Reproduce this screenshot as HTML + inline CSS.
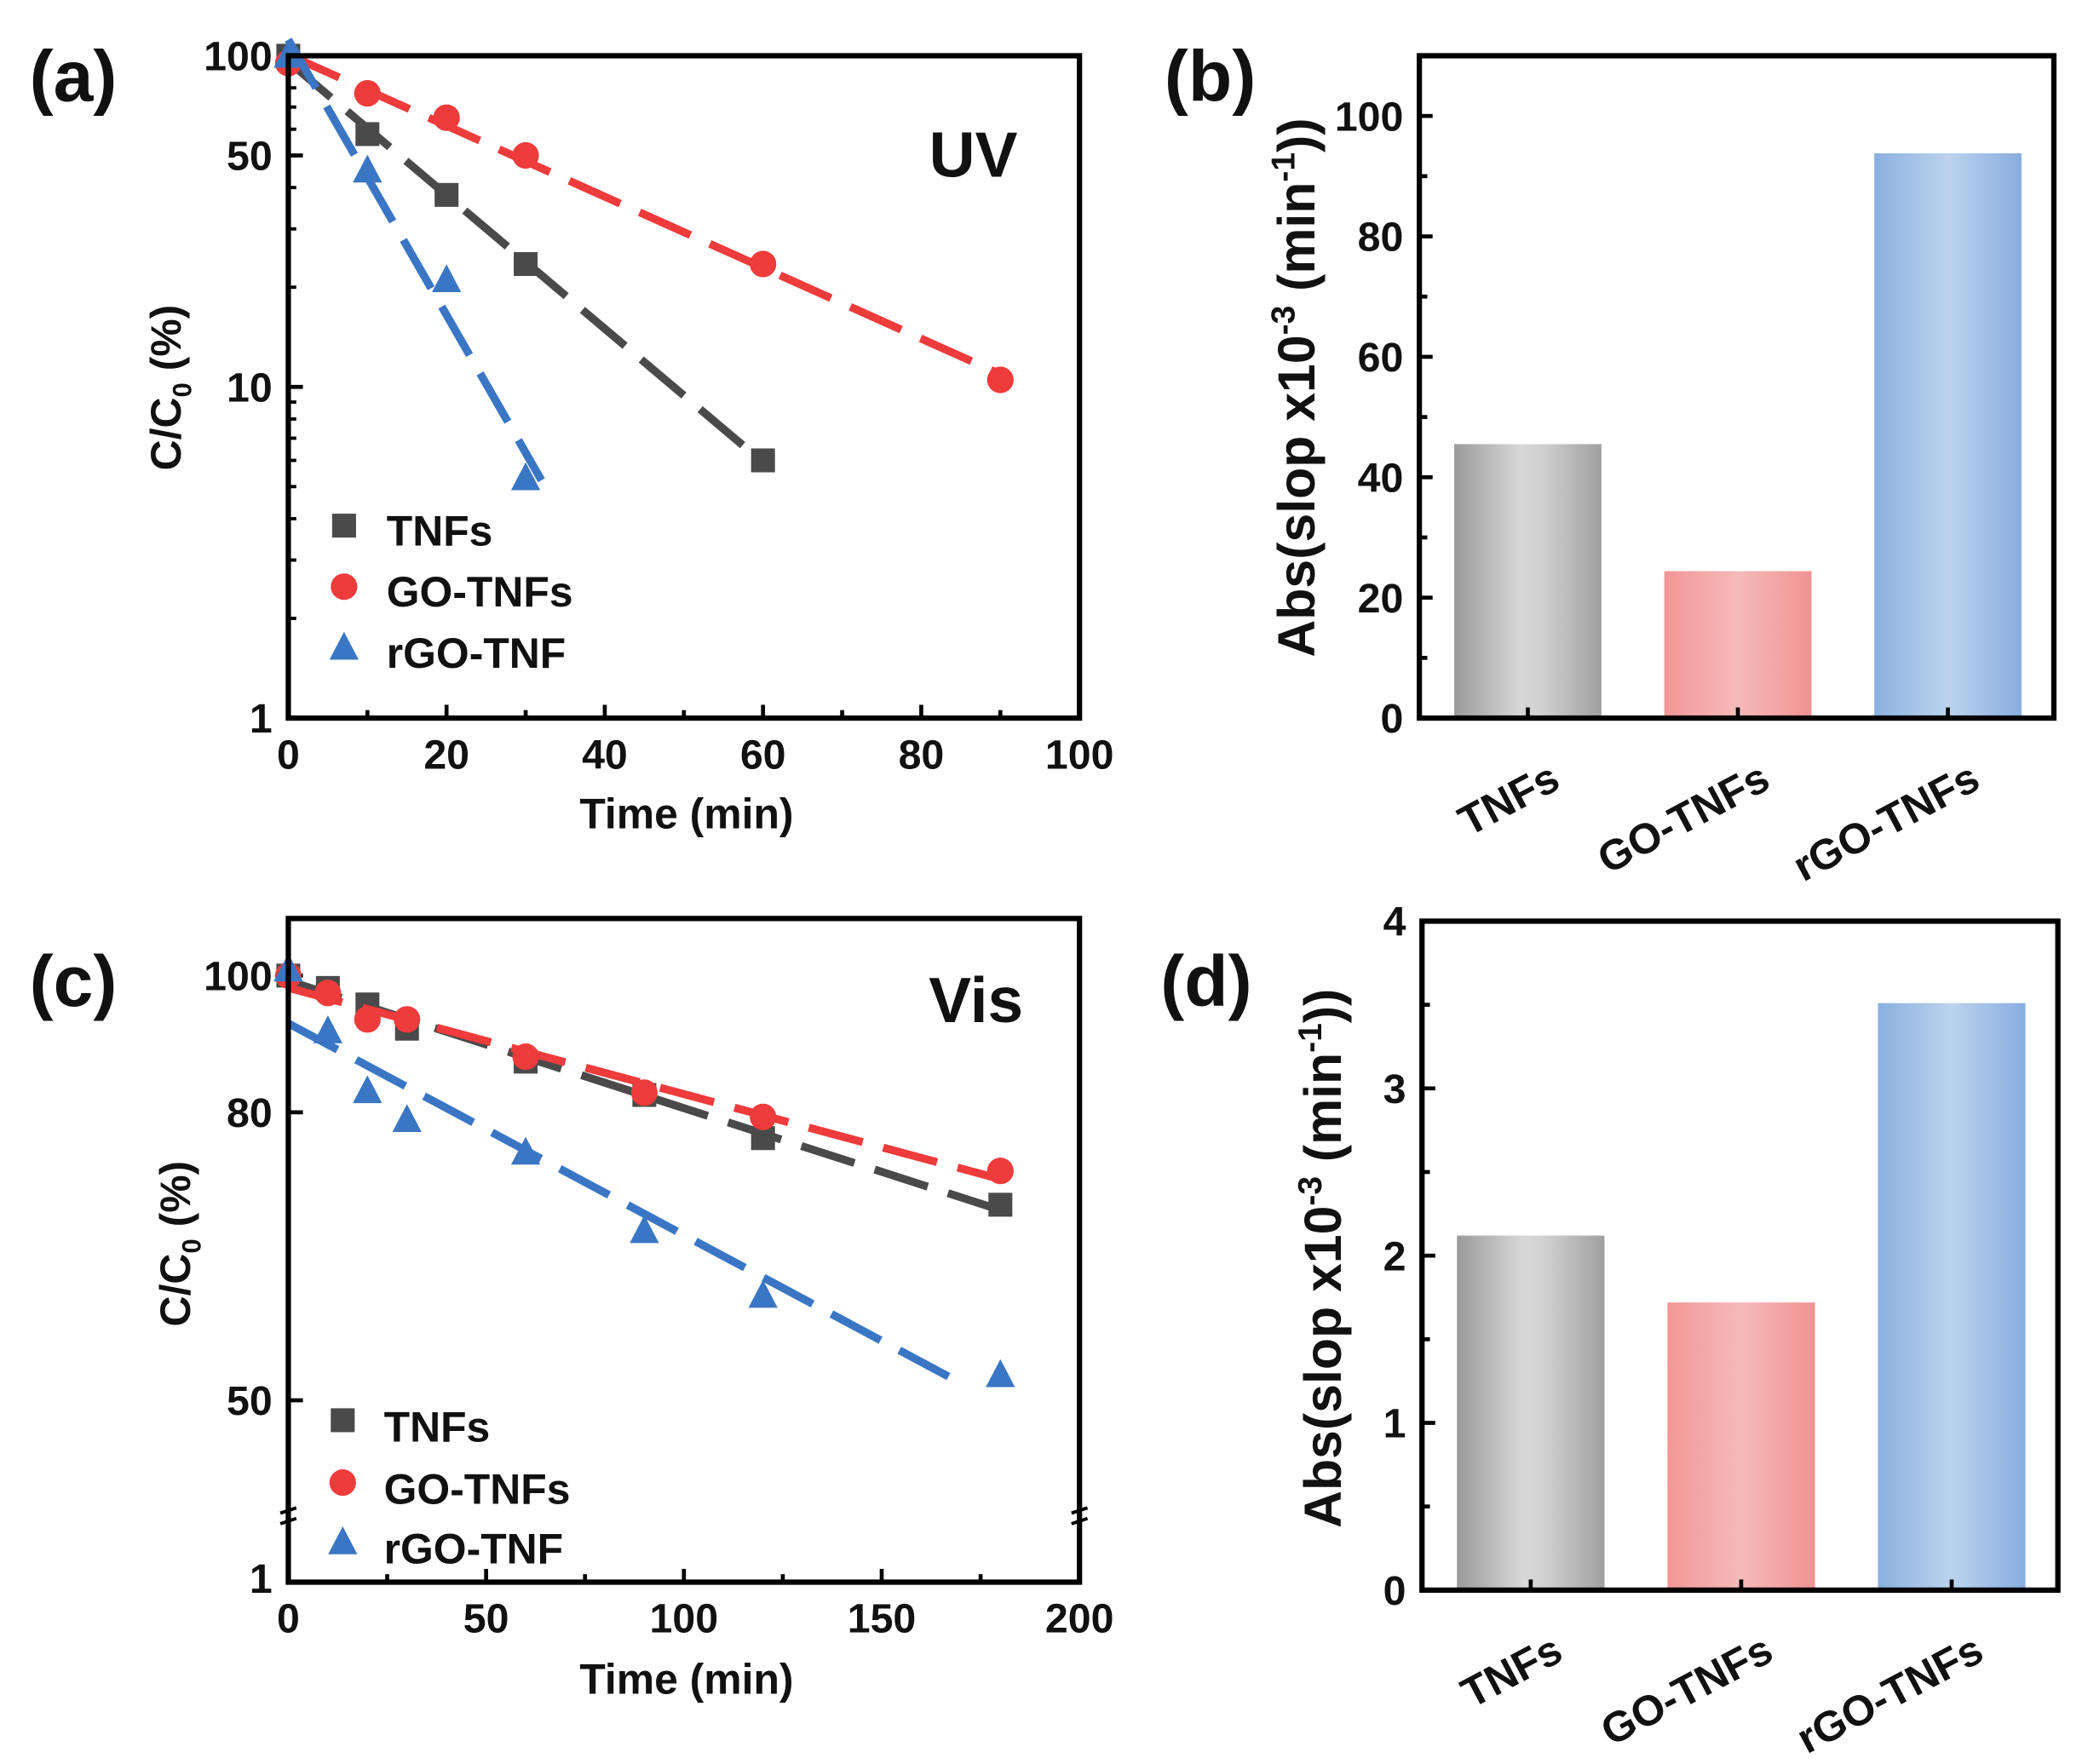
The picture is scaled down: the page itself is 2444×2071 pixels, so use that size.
<!DOCTYPE html>
<html><head><meta charset="utf-8"><style>
html,body{margin:0;padding:0;background:#fff;}
svg{display:block;}
text{font-family:"Liberation Sans",sans-serif;font-weight:bold;fill:#111;}
</style></head><body>
<svg id="fig" width="2444" height="2071" viewBox="0 0 1568 1329" xmlns="http://www.w3.org/2000/svg">
<defs>
<linearGradient id="gGray" x1="0" x2="1" y1="0" y2="0"><stop offset="0" stop-color="#9a9a9a"/><stop offset="0.45" stop-color="#d8d8d8"/><stop offset="0.6" stop-color="#d0d0d0"/><stop offset="1" stop-color="#a0a0a0"/></linearGradient>
<linearGradient id="gRed" x1="0" x2="1" y1="0" y2="0"><stop offset="0" stop-color="#f29696"/><stop offset="0.5" stop-color="#f6baba"/><stop offset="1" stop-color="#f19292"/></linearGradient>
<linearGradient id="gBlue" x1="0" x2="1" y1="0" y2="0"><stop offset="0" stop-color="#8ab0df"/><stop offset="0.5" stop-color="#bcd3ee"/><stop offset="1" stop-color="#88ade0"/></linearGradient>
</defs>
<g id="root"></g>
</svg>
<script>
// ---------- data ----------
const seriesNames = ['TNFs','GO-TNFs','rGO-TNF'];
const aTime = [[0,10,20,30,60],[0,10,20,30,60,90],[0,10,20,30]];
const aGray = [100,58,38,23.5,6];
const aRed = [95,77,65,50,23.5,10.5];
const aBlue = [100,45,21,5.3];
const aFitEnd = [61,90,32];
const cTime = [0,10,20,30,60,90,120,180];
const cGray = [100,98,95.4,91.7,86.9,82.3,76.7,68.8];
const cRed = [100,97.2,93.1,93.1,87.6,82.6,79.4,72.7];
const cBlue = [101,91.3,82.8,79,74.9,65.9,59.3,52.1];
const cFitEnd = [180,180,170];
const barCats = ['TNFs','GO-TNFs','rGO-TNFs'];
const bVals = [45.5,24.4,93.8];
const dVals = [2.12,1.72,3.51];
const aXTicks = [0,20,40,60,80,100];
const aYTicks = [1,10,50,100];
const bYTicks = [0,20,40,60,80,100];
const cXTicks = [0,50,100,150,200];
const cYTicks = [50,80,100];
const dYTicks = [0,1,2,3,4];

const NS='http://www.w3.org/2000/svg';
const root=document.getElementById('root');
function mk(tag,attrs,parent){const e=document.createElementNS(NS,tag);for(const k in attrs)e.setAttribute(k,attrs[k]);(parent||root).appendChild(e);return e;}
function txt(s,attrs,parent){const e=mk('text',attrs,parent);e.textContent=s;return e;}
const colors=['#4a4a4a','#ee3b3b','#3a76c4'];
const TF=31;

function marker(type,x,y,c,g){
  let e;
  if(type===0){e=mk('rect',{x:x-9,y:y-9,width:18,height:18,fill:c},g);}
  else if(type===1){e=mk('circle',{cx:x,cy:y,r:10,fill:c},g);}
  else {e=mk('polygon',{points:`${x},${y-12} ${x-11},${y+9} ${x+11},${y+9}`,fill:c},g);}
  return e;
}
function fitLog(xs,ys){const n=xs.length;let sx=0,sy=0,sxx=0,sxy=0;for(let i=0;i<n;i++){const ly=Math.log10(ys[i]);sx+=xs[i];sy+=ly;sxx+=xs[i]*xs[i];sxy+=xs[i]*ly;}const b=(n*sxy-sx*sy)/(n*sxx-sx*sx);const a=(sy-b*sx)/n;return [a,b];}

function frame(L,T,R,B,name){
  const r=mk('rect',{x:L,y:T,width:R-L,height:B-T,fill:'none',stroke:'#000','stroke-width':4});
  
  
}
function label(s,x,y,name){const t=txt(s,{x:x,y:y,'font-size':54});}

// ---------- panel (a) ----------
(function(){
  const L=217,R=813,T=42,B=541;
  const X=v=>L+(v/100)*(R-L);
  const Y=v=>B-Math.log10(v)*(B-T)/2;
  const g=mk('g',{});
  aXTicks.forEach(v=>{mk('line',{x1:X(v),x2:X(v),y1:B,y2:B-10,stroke:'#000','stroke-width':3},g);
    const t=txt(v,{x:X(v),y:B+38,'text-anchor':'middle','font-size':TF},g);});
  for(let v=10;v<100;v+=20){mk('line',{x1:X(v),x2:X(v),y1:B,y2:B-6,stroke:'#000','stroke-width':3},g);}
  for(let d=1;d<=10;d*=10)for(let m=2;m<=9;m++){mk('line',{x1:L,x2:L+6,y1:Y(d*m),y2:Y(d*m),stroke:'#000','stroke-width':2.5},g);}
  aYTicks.forEach(v=>{mk('line',{x1:L,x2:L+11,y1:Y(v),y2:Y(v),stroke:'#000','stroke-width':3},g);
    const t=txt(v,{x:L-12,y:Y(v)+11,'text-anchor':'end','font-size':TF},g);});
  const ys=[aGray,aRed,aBlue];
  ys.forEach((arr,i)=>{
    const [a,b]=fitLog(aTime[i],arr);
    const ln=mk('line',{x1:X(0),y1:Y(Math.pow(10,a)),x2:X(aFitEnd[i]),y2:Y(Math.pow(10,a+b*aFitEnd[i])),stroke:colors[i],'stroke-width':6,'stroke-dasharray':'42 16'},g);
    
    
    arr.forEach((v,j)=>{const m=marker(i,X(aTime[i][j]),Y(v),colors[i],g);
      
      });
  });
  frame(L,T,R,B,'plot-frame-a');
  const xt=txt('Time (min)',{x:517,y:624,'text-anchor':'middle','font-size':32},g);
  const yt=txt('',{transform:'translate(136,292) rotate(-90)','text-anchor':'middle','font-size':32},g);
  yt.innerHTML='C/C<tspan font-size="20" dy="8">0</tspan><tspan dy="-8"> (%)</tspan>';
  
  const uv=txt('UV',{x:733,y:133,'text-anchor':'middle','font-size':48},g);
  [396,442,488].forEach((y,i)=>{const m=marker(i,259,y,colors[i],g);
    const t=txt(seriesNames[i],{x:291,y:y+15,'font-size':32},g);});
})();
label('(a)',22,76,'panel-label-a');

// ---------- panel (c) ----------
(function(){
  const L=217,R=813,T=692,B=1192;
  const X=v=>L+(v/200)*(R-L);
  const Y=v=>735-(Math.log10(v)-2)*1063;
  const g=mk('g',{});
  cXTicks.forEach(v=>{mk('line',{x1:X(v),x2:X(v),y1:B,y2:B-10,stroke:'#000','stroke-width':3},g);
    const t=txt(v,{x:X(v),y:B+38,'text-anchor':'middle','font-size':TF},g);});
  for(let v=25;v<200;v+=50){mk('line',{x1:X(v),x2:X(v),y1:B,y2:B-6,stroke:'#000','stroke-width':3},g);}
  cYTicks.forEach(v=>{mk('line',{x1:L,x2:L+11,y1:Y(v),y2:Y(v),stroke:'#000','stroke-width':3},g);
    const t=txt(v,{x:L-12,y:Y(v)+11,'text-anchor':'end','font-size':TF},g);});
  const t1=txt('1',{x:L-12,y:B+8,'text-anchor':'end','font-size':TF},g);
  const ys=[cGray,cRed,cBlue];
  ys.forEach((arr,i)=>{
    const [a,b]=fitLog(cTime,arr);
    const ln=mk('line',{x1:X(0),y1:Y(Math.pow(10,a)),x2:X(cFitEnd[i]),y2:Y(Math.pow(10,a+b*cFitEnd[i])),stroke:colors[i],'stroke-width':6,'stroke-dasharray':'42 16'},g);
    
    
    arr.forEach((v,j)=>{const m=marker(i,X(cTime[j]),Y(v),colors[i],g);
      
      });
  });
  frame(L,T,R,B,'plot-frame-c');
  [L,R].forEach(x=>{mk('rect',{x:x-5,y:1137,width:10,height:10,fill:'#fff'},g);
    mk('line',{x1:x-6,y1:1140,x2:x+6,y2:1136,stroke:'#000','stroke-width':2.5},g);
    mk('line',{x1:x-6,y1:1148,x2:x+6,y2:1144,stroke:'#000','stroke-width':2.5},g);});
  const xt=txt('Time (min)',{x:517,y:1276,'text-anchor':'middle','font-size':32},g);
  const yt=txt('',{transform:'translate(143,937) rotate(-90)','text-anchor':'middle','font-size':32},g);
  yt.innerHTML='C/C<tspan font-size="20" dy="8">0</tspan><tspan dy="-8"> (%)</tspan>';
  
  const vis=txt('Vis',{x:735,y:770,'text-anchor':'middle','font-size':48},g);
  [1070,1117,1162].forEach((y,i)=>{const m=marker(i,258,y,colors[i],g);
    const t=txt(seriesNames[i],{x:289,y:y+16,'font-size':32},g);});
})();
label('(c)',22,758,'panel-label-c');

// ---------- bar panels ----------
function barPanel(L,T,R,B,ymax,ticks,vals,minorStep,name,ylabX,ylabY){
  const Y=v=>B-(v/ymax)*(B-T);
  const g=mk('g',{});
  const w=(R-L), bw=w*0.232, step=w*0.331, x0=L+w*0.055;
  const grads=['url(#gGray)','url(#gRed)','url(#gBlue)'];
  vals.forEach((v,i)=>{const x=x0+i*step;
    const r=mk('rect',{x:x,y:Y(v),width:bw,height:B-Y(v),fill:grads[i]},g);
    
    
    const cx=x+bw/2;
    mk('line',{x1:cx,x2:cx,y1:B,y2:B-8,stroke:'#000','stroke-width':3},g);
    const t=txt(barCats[i],{transform:`translate(${cx+26},${B+52}) rotate(-28)`,'text-anchor':'end','font-size':32},g);
    
  });
  for(let v=minorStep;v<ymax;v+=minorStep*2){mk('line',{x1:L,x2:L+6,y1:Y(v),y2:Y(v),stroke:'#000','stroke-width':3},g);}
  ticks.forEach(v=>{mk('line',{x1:L,x2:L+10,y1:Y(v),y2:Y(v),stroke:'#000','stroke-width':3},g);
    const t=txt(v,{x:L-12,y:Y(v)+11,'text-anchor':'end','font-size':TF},g);});
  frame(L,T,R,B,'plot-frame-'+name.slice(-1));
  const yt=txt('',{transform:`translate(${ylabX},${ylabY}) rotate(-90)`,'text-anchor':'middle','font-size':39},g);
  yt.innerHTML='Abs(slop x10<tspan font-size="25" dy="-15">-3</tspan><tspan dy="15"> (min</tspan><tspan font-size="25" dy="-15">-1</tspan><tspan dy="15">))</tspan>';
  
}
barPanel(1069,42,1547,541,110,bYTicks,bVals,10,'panel-b',990,292);
label('(b)',877,76,'panel-label-b');
barPanel(1071,694,1550,1198,4,dYTicks,dVals,0.5,'panel-d',1010,948);
label('(d)',874,758,'panel-label-d');
</script>
</body></html>
